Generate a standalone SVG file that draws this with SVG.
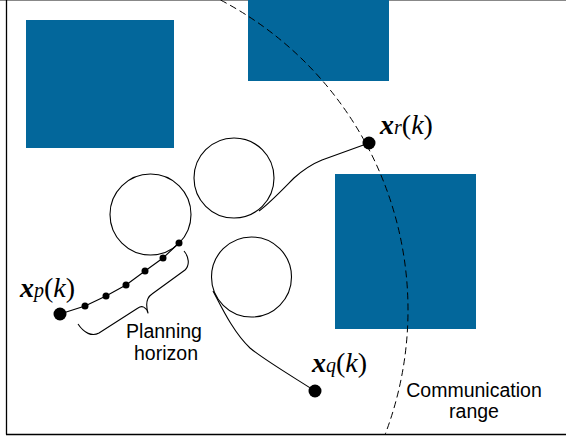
<svg xmlns="http://www.w3.org/2000/svg" width="566" height="439" viewBox="0 0 566 439">
<style>
.obs{fill:#03679b}
.rob{fill:none;stroke:#000;stroke-width:1.1}
.trj{fill:none;stroke:#000;stroke-width:1.1;stroke-linejoin:round}
.dot{fill:#000}
.lbl{font-family:"Liberation Sans",Arial,sans-serif;font-size:19.5px;fill:#000}
.math{font-family:"Liberation Serif","Times New Roman",serif;font-size:28px;fill:#000}
</style>
<rect width="566" height="439" fill="#fff"/>
<g id="frame">
<line x1="0" y1="0.5" x2="566" y2="0.5" stroke="#888" stroke-width="1.2"/>
<line x1="6.5" y1="0" x2="6.5" y2="434.5" stroke="#000" stroke-width="1.3"/>
<line x1="6" y1="434.5" x2="566" y2="434.5" stroke="#000" stroke-width="1.3"/>
</g>
<g id="obstacle1"><rect class="obs" x="26" y="20" width="148" height="128"/></g>
<g id="obstacle2"><rect class="obs" x="248" y="0" width="141" height="81"/></g>
<g id="obstacle3"><rect class="obs" x="335" y="174" width="141" height="155"/></g>
<g id="comm-range">
<path d="M220.5,0 A350,350 0 0,1 385.3,434" fill="none" stroke="#000" stroke-width="1" stroke-dasharray="7 4"/>
<text class="lbl" x="474" y="397" text-anchor="middle">Communication</text>
<text class="lbl" x="474" y="418" text-anchor="middle">range</text>
</g>
<g id="robot-r-disc"><circle class="rob" cx="234" cy="178" r="40"/></g>
<g id="robot-p-disc"><circle class="rob" cx="150.5" cy="214.5" r="40.5"/></g>
<g id="robot-q-disc"><circle class="rob" cx="251.5" cy="277" r="40"/></g>
<g id="connectors">
<path class="trj" d="M369,143 L322,160 C312,164 303,170 294,178 C285,187 270,203 259,211"/>
<path class="trj" d="M213,291 C221,306 233,332 250,348 C263,359 290,375 315,391"/>
<polyline class="trj" points="60,314 85,306 106,296 126,285 145,271 163,258 179,243"/>
<path class="trj" d="M184,251 C189,257 190,265 185,270 L152,294 C146,298 146,306 148,313 C146,307 142,305 138,308 L99,333 C92,337 84,333 78,324"/>
</g>
<g id="node-xr">
<circle class="dot" cx="369" cy="143" r="6.5"/>
<text class="math" x="380" y="134"><tspan font-weight="bold" font-style="italic">x</tspan><tspan font-style="italic" font-size="20">r</tspan><tspan>(</tspan><tspan font-style="italic">k</tspan><tspan>)</tspan></text>
</g>
<g id="node-xp">
<circle class="dot" cx="60" cy="314" r="6.5"/>
<circle class="dot" cx="85" cy="306" r="3.5"/>
<circle class="dot" cx="106" cy="296" r="3.5"/>
<circle class="dot" cx="126" cy="285" r="3.5"/>
<circle class="dot" cx="145" cy="271" r="3.5"/>
<circle class="dot" cx="163" cy="258" r="3.5"/>
<circle class="dot" cx="179" cy="243" r="3.5"/>
<text class="math" x="20" y="297"><tspan font-weight="bold" font-style="italic">x</tspan><tspan font-style="italic" font-size="20">p</tspan><tspan>(</tspan><tspan font-style="italic">k</tspan><tspan>)</tspan></text>
</g>
<g id="node-xq">
<circle class="dot" cx="315" cy="391" r="6.5"/>
<text class="math" x="312" y="372"><tspan font-weight="bold" font-style="italic">x</tspan><tspan font-style="italic" font-size="20">q</tspan><tspan>(</tspan><tspan font-style="italic">k</tspan><tspan>)</tspan></text>
</g>
<g id="planning-horizon">
<text class="lbl" x="164" y="338" text-anchor="middle">Planning</text>
<text class="lbl" x="166" y="360" text-anchor="middle">horizon</text>
</g>
</svg>
